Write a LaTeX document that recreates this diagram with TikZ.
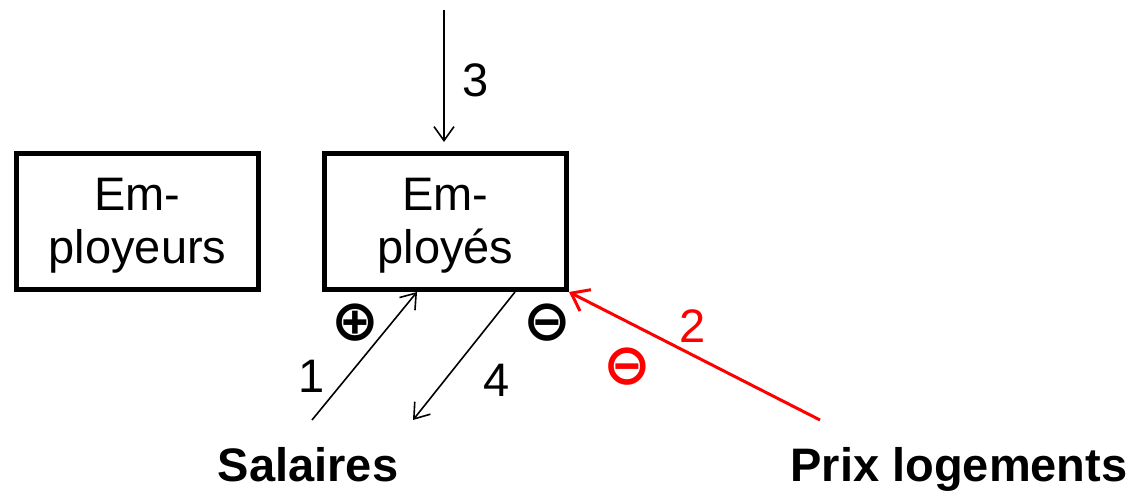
\documentclass[tikz,border=0pt]{standalone}
\usepackage{fontspec}
\setmainfont{Liberation Sans}
\newfontfamily\signfont{DejaVu Sans}
\usetikzlibrary{arrows.meta}
\tikzset{
  acteur/.style={draw, line width=5pt, minimum width=242pt, minimum height=136pt, align=center, inner sep=0pt, font=\fontsize{47}{53}\selectfont},
  fl/.style={-{Straight Barb[length=14pt,width=20pt,line width=1.6pt]}, line width=1.6pt},
  flrouge/.style={-{Straight Barb[length=16pt,width=24pt,line width=3pt]}, line width=3pt, red},
  signe/.style={font=\signfont\bfseries\fontsize{57}{57}\selectfont},
  titre/.style={font=\bfseries\fontsize{47}{57}\selectfont, anchor=base},
}
\newcommand{\haut}{\rule{0pt}{40pt}}
\begin{document}
\begin{tikzpicture}[x=1pt, y=1pt, font=\fontsize{47}{57}\selectfont]
\useasboundingbox (0,0) rectangle (1136,492);

\node[acteur] (emr) at (137.5,270.5) {\haut Em-\\ployeurs};
\node[acteur] (emp) at (445.5,270.5) {\haut Em-\\ployés};
\node[titre] (sal) at (308,10) {Salaires};
\node[titre] (prix) at (959,10) {Prix logements};

\coordinate (top) at (444,482);
\coordinate (s1) at (312,72);
\coordinate (s4) at (413,72);
\coordinate (p2) at (820,72);

\draw[fl] (top) -- ([yshift=9pt]emp.north -| top);
\node (n3) at (476,412) {3};
\draw[fl] (s1) -- (emp.south -| 417,0);
\node (n1) at (312,116) {1};
\draw[fl] (emp.south -| 515,0) -- (s4);
\node (n4) at (497,112) {4};
\draw[flrouge] (p2) -- (emp.south east);
\node[red] (n2) at (693,166) {2};

\node[signe] (plus) at (355.5,169.5) {⊕};
\node[signe] (moins) at (547,169) {⊖};
\node[signe, red] (moinsr) at (627.5,125) {⊖};

\end{tikzpicture}
\end{document}
